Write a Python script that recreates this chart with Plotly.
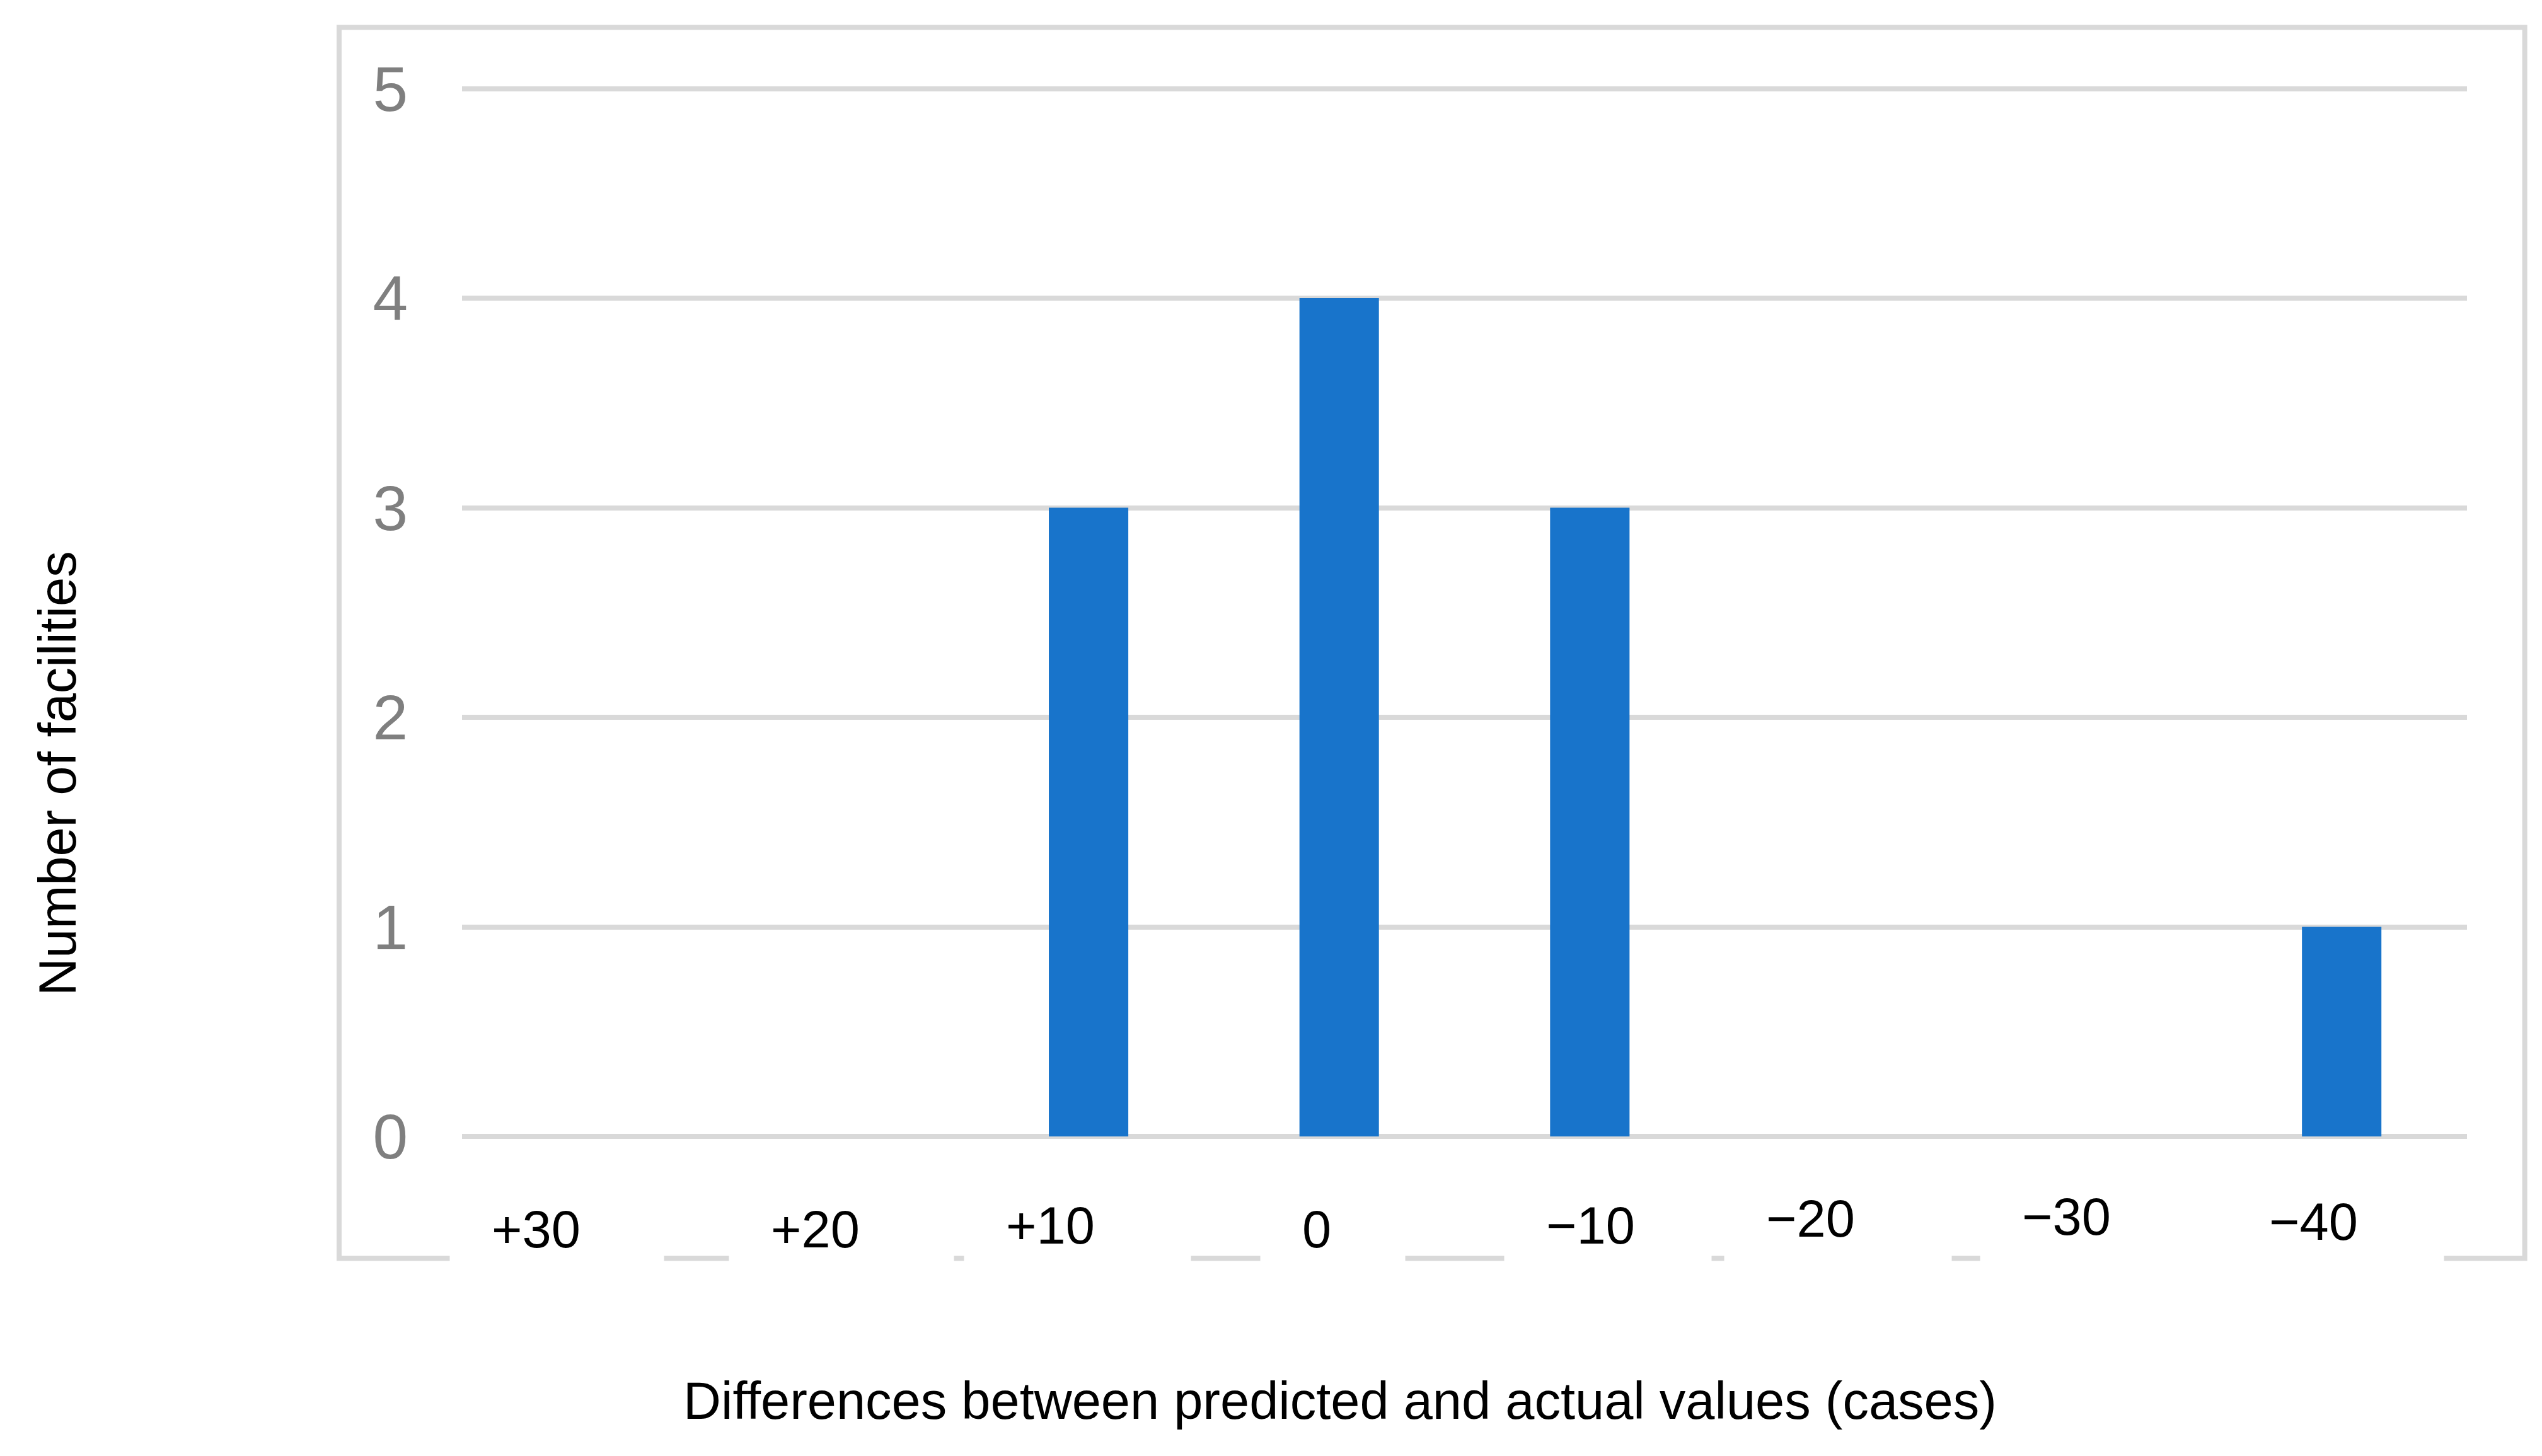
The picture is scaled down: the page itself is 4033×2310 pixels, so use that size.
import plotly.graph_objects as go

# data
categories = ["+30", "+20", "+10", "0", "\u221210", "\u221220", "\u221230", "\u221240"]
facilities = [0, 0, 3, 4, 3, 0, 0, 1]
y_ticks = [0, 1, 2, 3, 4, 5]

x_title = "Differences between predicted and actual values (cases)"
y_title = "Number of facilities"

FONT = "Liberation Sans, Arial, sans-serif"
GRID = "#d9d9d9"
BAR = "#1874cb"

# label boxes were placed by hand in the original, so each one sits a bit off
label_xshift = [-219, -173, -198, -126, -136, -185, -177, -182]
label_yshift = [-147, -147, -141, -147, -141, -130, -127, -135]
label_width = [207, 224, 227, 97, 196, 228, 267, 211]

fig = go.Figure()
fig.add_trace(go.Bar(
    x=categories,
    y=facilities,
    marker=dict(color=BAR, line=dict(width=0)),
    hoverinfo="skip",
))

# x tick labels as white text boxes (they cut through the outer frame)
# position by category index, "+30"-like strings would be read as numbers
for i, cat in enumerate(categories):
    fig.add_annotation(
        x=i, xref="x", y=0, yref="y",
        text=cat, showarrow=False,
        xanchor="left", yanchor="middle",
        xshift=label_xshift[i], yshift=label_yshift[i],
        width=label_width[i], align="left",
        bgcolor="white", borderpad=66,
        font=dict(family=FONT, size=83, color="black"),
    )

fig.add_annotation(
    x=0.4379, xref="paper", y=-0.2501, yref="paper",
    text=x_title, showarrow=False,
    xanchor="center", yanchor="middle",
    font=dict(family=FONT, size=83, color="black"),
)
fig.add_annotation(
    x=-0.2015, xref="paper", y=0.3431, yref="paper",
    text=y_title, showarrow=False, textangle=-90,
    xanchor="center", yanchor="middle",
    font=dict(family=FONT, size=83, color="black"),
)

# outer chart frame
fig.add_shape(
    type="rect", xref="paper", yref="paper",
    x0=-0.0613, x1=1.0288, y0=-0.1152, y1=1.0479,
    line=dict(color=GRID, width=8), fillcolor="rgba(0,0,0,0)",
    layer="below",
)

# page body adds 8px, so the figure is 8px smaller on each side
# y range goes a bit past 5 so the top gridline is not dropped at the edge
fig.update_layout(
    width=4025,
    height=2302,
    autosize=False,
    margin=dict(l=725, r=119, t=116, b=507, pad=0),
    paper_bgcolor="white",
    plot_bgcolor="white",
    showlegend=False,
    bargap=0.683,
    font=dict(family=FONT),
)
fig.update_xaxes(
    type="category",
    categoryorder="array",
    categoryarray=categories,
    range=[-0.5, len(categories) - 0.5],
    autorange=False,
    showticklabels=False,
    showgrid=False,
    zeroline=False,
    showline=False,
    ticks="",
)
fig.update_yaxes(
    range=[0, 5.05],
    autorange=False,
    tickvals=y_ticks,
    showgrid=True,
    gridcolor=GRID,
    gridwidth=8,
    zeroline=True,
    zerolinecolor=GRID,
    zerolinewidth=8,
    showline=False,
    ticks="",
    ticklabelstandoff=85,
    tickfont=dict(family=FONT, size=100, color="#7f7f7f"),
)

fig.write_html("out.html")
